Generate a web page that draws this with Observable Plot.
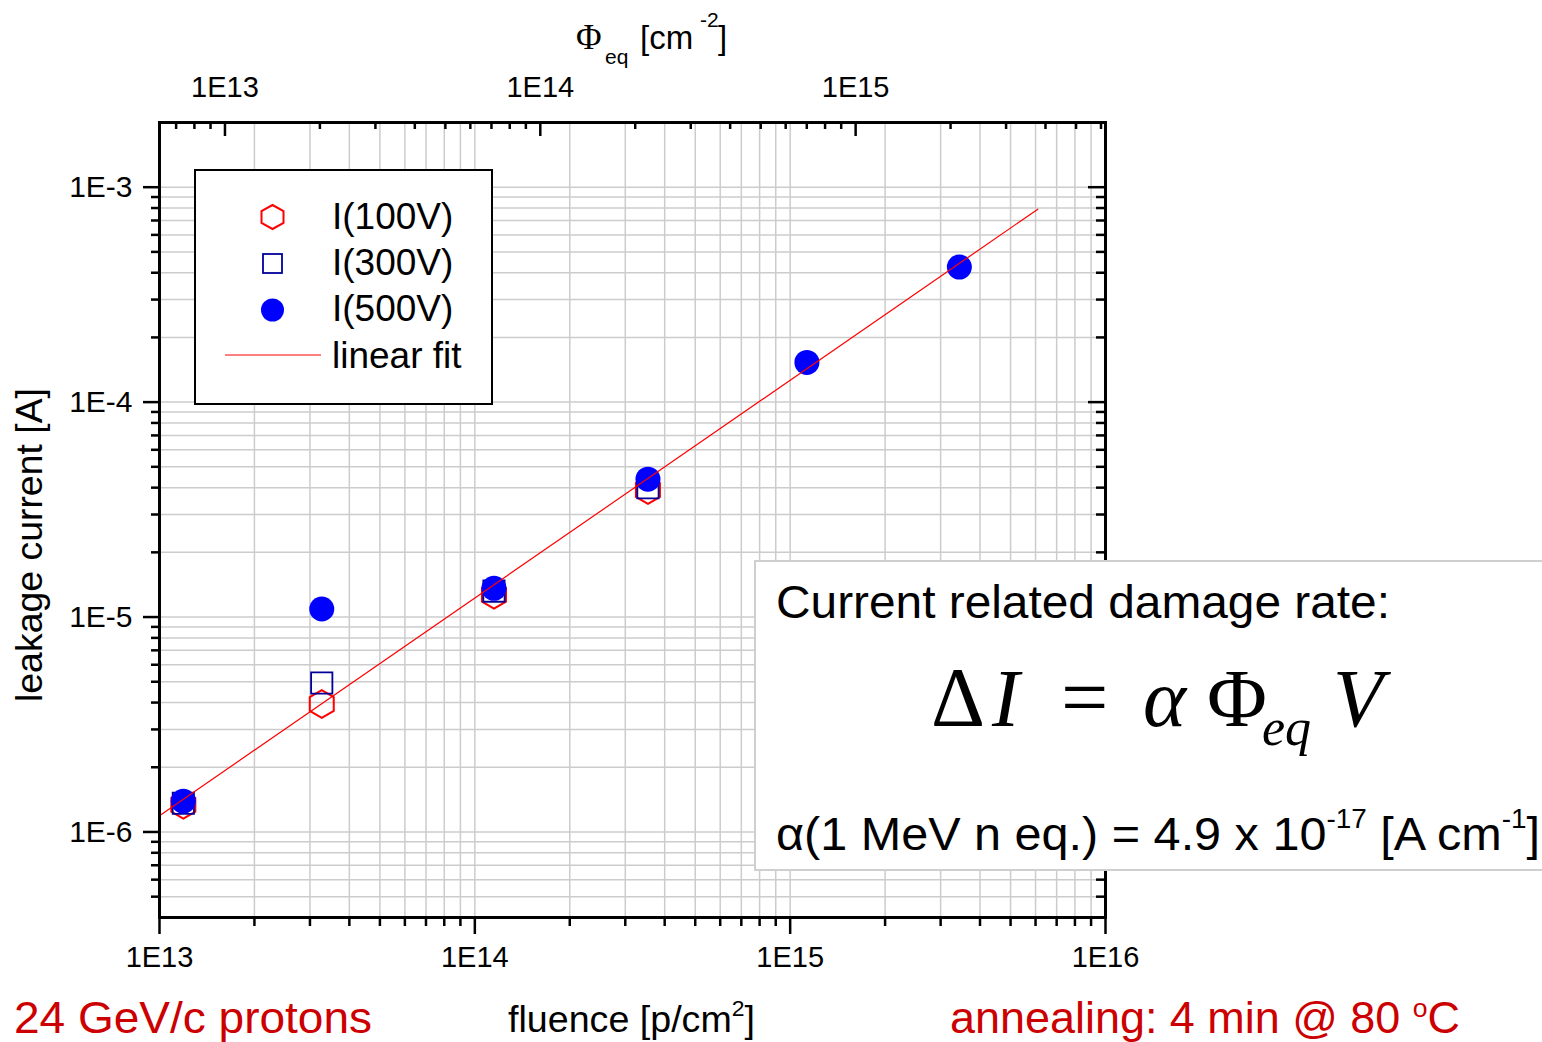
<!DOCTYPE html>
<html>
<head>
<meta charset="utf-8">
<script src="https://cdn.jsdelivr.net/npm/d3@7"></script>
<script src="https://cdn.jsdelivr.net/npm/@observablehq/plot@0.6"></script>
<style>
  html, body { margin: 0; padding: 0; background: #fff; }
  svg { display: block; }
</style>
</head>
<body>
<div id="chart"></div>
<script>
// ---------------- data ----------------
const fluenceAll = [1.19e13, 3.27e13, 1.15e14, 3.54e14, 1.13e15, 3.44e15];   // p/cm^2
const current500 = [1.39e-6, 1.09e-5, 1.36e-5, 4.38e-5, 1.53e-4, 4.25e-4];   // A
const fluenceLow = [1.19e13, 3.27e13, 1.15e14, 3.54e14];
const current100 = [1.34e-6, 3.94e-6, 1.27e-5, 3.90e-5];
const current300 = [1.36e-6, 4.93e-6, 1.32e-5, 4.00e-5];
const fitFluence = [1.0e13, 6.1e15];
const fitCurrent = [1.19e-6, 7.9e-4];
const hardnessFactor = 0.62;   // Phi_eq = 0.62 * fluence (24 GeV/c protons)

const xTickValues = [1e13, 1e14, 1e15, 1e16];
const xTickLabels = ["1E13", "1E14", "1E15", "1E16"];
const yTickValues = [1e-6, 1e-5, 1e-4, 1e-3];
const yTickLabels = ["1E-6", "1E-5", "1E-4", "1E-3"];
const topTickValues = [1e13, 1e14, 1e15];          // Phi_eq
const topTickLabels = ["1E13", "1E14", "1E15"];

const legendLabels = ["I(100V)", "I(300V)", "I(500V)", "linear fit"];

// ---------------- layout ----------------
const W = 1542, H = 1042;
const mL = 159, mR = 437, mT = 122, mB = 125;
const frameW = W - mL - mR, frameH = H - mT - mB;

// minor ticks per decade
function minorTicks(lo, hi, e0, e1) {
  const out = [];
  for (let e = e0; e <= e1; e++) for (let k = 2; k <= 9; k++) {
    const v = k * Math.pow(10, e);
    if (v > lo * 1.0001 && v < hi * 0.9999) out.push(v);
  }
  return out;
}
const xDomain = [1e13, 1e16];
const yDomain = [4e-7, 2e-3];
const xMinor = minorTicks(xDomain[0], xDomain[1], 13, 15);
const yMinor = minorTicks(yDomain[0], yDomain[1], -7, -3);
const topMinorPhi = minorTicks(xDomain[0] * hardnessFactor, xDomain[1] * hardnessFactor, 12, 15);
const topMajorF = topTickValues.map(v => v / hardnessFactor);
const topMinorF = topMinorPhi.map(v => v / hardnessFactor);

const d100 = fluenceLow.map((f, i) => ({f, c: current100[i]}));
const d300 = fluenceLow.map((f, i) => ({f, c: current300[i]}));
const d500 = fluenceAll.map((f, i) => ({f, c: current500[i]}));
const dFit = fitFluence.map((f, i) => ({f, c: fitCurrent[i]}));

const label = (vals, labels) => d => labels[vals.findIndex(v => Math.abs(Math.log10(v) - Math.log10(d)) < 1e-6)];

const gridColor = "#cccccc";

const svg = Plot.plot({
  width: W, height: H,
  marginLeft: mL, marginRight: mR, marginTop: mT, marginBottom: mB,
  style: {fontFamily: "'Liberation Sans', Arial, sans-serif", color: "#000", background: "#fff"},
  x: {type: "log", domain: xDomain},
  y: {type: "log", domain: yDomain},
  marks: [
    Plot.gridX([...xMinor, ...xTickValues], {stroke: gridColor, strokeOpacity: 1, strokeWidth: 1.5}),
    Plot.gridY([...yMinor, ...yTickValues], {stroke: gridColor, strokeOpacity: 1, strokeWidth: 1.5}),
    Plot.dot(d100, {x: "f", y: "c", symbol: "hexagon", r: 12, stroke: "#ff0000", strokeWidth: 2, fill: "none"}),
    Plot.dot(d300, {x: "f", y: "c", symbol: "square", r: 12, stroke: "#000099", strokeWidth: 1.8, fill: "none"}),
    Plot.dot(d500, {x: "f", y: "c", symbol: "circle", r: 12.5, fill: "#0000ff", stroke: "none"}),
    Plot.line(dFit, {x: "f", y: "c", stroke: "#ff0000", strokeWidth: 1.2}),
    // bottom axis (outward ticks)
    Plot.axisX(xMinor, {anchor: "bottom", tickSize: 9, tickFormat: () => "", label: null, strokeWidth: 2.5}),
    Plot.axisX(xTickValues, {anchor: "bottom", tickSize: 17, tickPadding: 12, tickFormat: label(xTickValues, xTickLabels), fontSize: 29, label: null, strokeWidth: 2.5}),
    // left axis (outward ticks)
    Plot.axisY(yMinor, {anchor: "left", tickSize: 8, tickFormat: () => "", label: null, strokeWidth: 2.5}),
    Plot.axisY(yTickValues, {anchor: "left", tickSize: 16, tickPadding: 11, tickFormat: label(yTickValues, yTickLabels), fontSize: 30, label: null, strokeWidth: 2.5}),
    // top axis (Phi_eq, inward ticks)
    Plot.tickX(topMinorF, {x: d => d, insetBottom: frameH - 7, stroke: "#000", strokeWidth: 2.5}),
    Plot.tickX(topMajorF, {x: d => d, insetBottom: frameH - 14, stroke: "#000", strokeWidth: 2.5}),
    Plot.text(topMajorF, {x: d => d, text: (d, i) => topTickLabels[i], frameAnchor: "top", lineAnchor: "middle", dy: -35, fontSize: 29, fill: "#000"}),
    // right axis (inward ticks)
    Plot.tickY(yMinor, {y: d => d, insetLeft: frameW - 9, stroke: "#000", strokeWidth: 2.5}),
    Plot.tickY(yTickValues, {y: d => d, insetLeft: frameW - 17, stroke: "#000", strokeWidth: 2.5}),
    Plot.frame({stroke: "#000", strokeWidth: 3})
  ]
});

document.getElementById("chart").appendChild(svg);
const s = d3.select(svg);
const sans = "'Liberation Sans', Arial, sans-serif";
const serif = "'Liberation Serif', 'DejaVu Serif', serif";

function txt(parent, x, y, str, size, family, extra = {}) {
  const t = parent.append("text").attr("x", x).attr("y", y)
    .attr("text-anchor", extra.anchor || "start")
    .attr("font-family", family).attr("font-size", size)
    .attr("fill", extra.fill || "#000");
  if (extra.italic) t.attr("font-style", "italic");
  if (str != null) t.text(str);
  return t;
}

// ---------- axis titles ----------
s.append("text")
  .attr("transform", "translate(42,545) rotate(-90)")
  .attr("text-anchor", "middle")
  .attr("font-family", sans).attr("font-size", 37).attr("fill", "#000")
  .attr("textLength", 314).attr("lengthAdjust", "spacingAndGlyphs")
  .text("leakage current [A]");

const xt = txt(s, 508, 1032, null, 36, sans)
  .attr("textLength", 247).attr("lengthAdjust", "spacingAndGlyphs");
xt.append("tspan").text("fluence [p/cm");
xt.append("tspan").attr("dy", -16).attr("font-size", 22).text("2");
xt.append("tspan").attr("dy", 16).text("]");

// top title: Phi_eq [cm^-2]
txt(s, 576, 49, "Φ", 35, serif);
txt(s, 605, 64, "eq", 21, sans);
txt(s, 640, 49, "[cm", 33, sans);
txt(s, 700, 27, "-2", 21, sans);
txt(s, 718, 49, "]", 33, sans);

// ---------- legend ----------
const lg = s.append("g");
lg.append("rect").attr("x", 195).attr("y", 170).attr("width", 297).attr("height", 234)
  .attr("fill", "#fff").attr("stroke", "#000").attr("stroke-width", 2);
const hx = 272.5, hy = 217, rx = 11, ry = 12;
lg.append("path")
  .attr("d", `M${hx},${hy - ry}L${hx + rx},${hy - ry / 2}L${hx + rx},${hy + ry / 2}L${hx},${hy + ry}L${hx - rx},${hy + ry / 2}L${hx - rx},${hy - ry / 2}Z`)
  .attr("fill", "none").attr("stroke", "#ff0000").attr("stroke-width", 2);
lg.append("rect").attr("x", 263).attr("y", 254).attr("width", 19).attr("height", 19)
  .attr("fill", "none").attr("stroke", "#000099").attr("stroke-width", 1.8);
lg.append("circle").attr("cx", 272.5).attr("cy", 310).attr("r", 11.5).attr("fill", "#0000ff");
lg.append("line").attr("x1", 225).attr("x2", 321).attr("y1", 355).attr("y2", 355)
  .attr("stroke", "#ff0000").attr("stroke-width", 1.2);
const legendBaselines = [229, 275, 321, 368];
legendLabels.forEach((t, i) => txt(lg, 332, legendBaselines[i], t, 37, sans));

// ---------- annotation box ----------
const ab = s.append("g");
ab.append("rect").attr("x", 755).attr("y", 561).attr("width", 800).attr("height", 309)
  .attr("fill", "#fff").attr("stroke", "#cfcfcf").attr("stroke-width", 2);
txt(ab, 776, 618, "Current related damage rate:", 47, sans)
  .attr("textLength", 614).attr("lengthAdjust", "spacingAndGlyphs");
// formula  ΔI = α Φ_eq V
const fy = 726;
txt(ab, 931, fy, "Δ", 84, serif);
txt(ab, 992, fy, "I", 82, serif, {italic: true});
txt(ab, 1061, fy, "=", 84, serif);
txt(ab, 1143, fy, "α", 82, serif, {italic: true});
txt(ab, 1207, fy, "Φ", 82, serif);
txt(ab, 1262, 745, "eq", 52, serif, {italic: true});
txt(ab, 1333, fy, "V", 82, serif, {italic: true});

const al = txt(ab, 776, 850, null, 47, sans)
  .attr("textLength", 764).attr("lengthAdjust", "spacingAndGlyphs");
al.append("tspan").text("α(1 MeV n eq.) = 4.9 x 10");
al.append("tspan").attr("dy", -22).attr("font-size", 27).text("-17");
al.append("tspan").attr("dy", 22).text(" [A cm");
al.append("tspan").attr("dy", -22).attr("font-size", 27).text("-1");
al.append("tspan").attr("dy", 22).text("]");

// ---------- footer notes ----------
txt(s, 14, 1033, "24 GeV/c protons", 44, sans, {fill: "#cc0000"})
  .attr("textLength", 358).attr("lengthAdjust", "spacingAndGlyphs");
const an = txt(s, 950, 1033, null, 44, sans, {fill: "#cc0000"})
  .attr("textLength", 510).attr("lengthAdjust", "spacingAndGlyphs");
an.append("tspan").text("annealing: 4 min @ 80 ");
an.append("tspan").attr("dy", -16).attr("font-size", 26).text("o");
an.append("tspan").attr("dy", 16).text("C");
</script>
</body>
</html>
